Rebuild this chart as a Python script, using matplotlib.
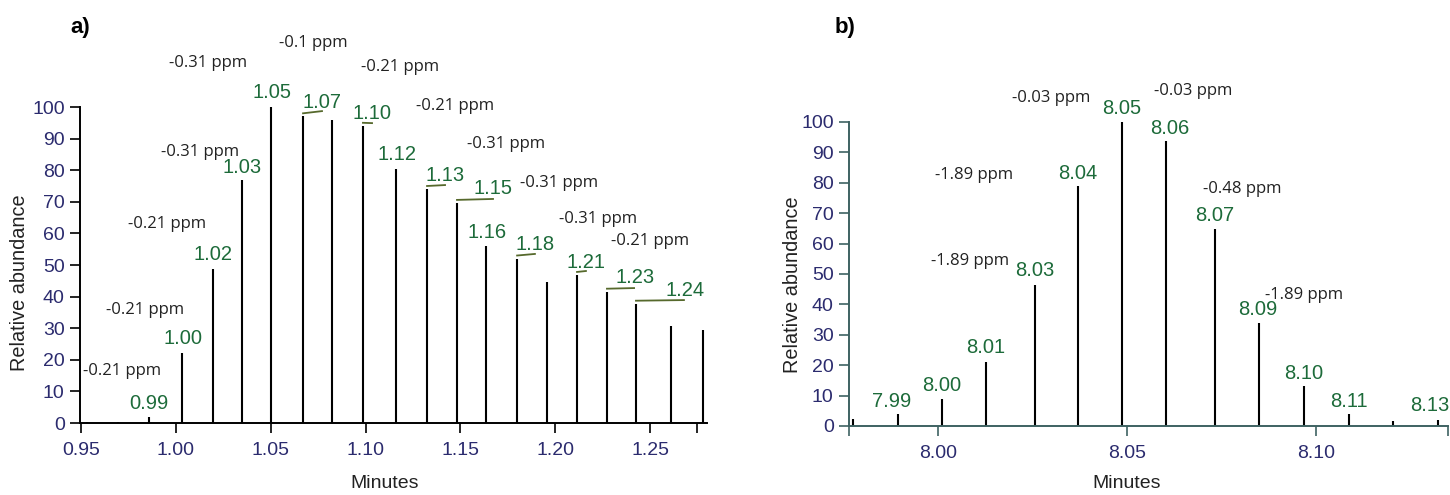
import matplotlib
matplotlib.use("Agg")
import matplotlib.pyplot as plt

# ---- data ----
# panel a) chromatogram peaks
times_a = [0.953, 0.9694, 0.9858, 1.0032, 1.0195, 1.0348, 1.0501, 1.0670, 1.0823, 1.0986, 1.1160,
           1.1324, 1.1482, 1.1635, 1.1799, 1.1957, 1.2115, 1.2273, 1.2426, 1.2611, 1.2780]
abund_a = [0.4, 0.4, 2, 22, 48.7, 77, 100, 97, 96, 94, 80.5,
           74, 69.6, 56, 52, 44.6, 46.8, 41.5, 37.7, 30.7, 29.4]
# labelled peaks: index into times_a, label text, label position
peak_labels_a = ["0.99", "1.00", "1.02", "1.03", "1.05", "1.07", "1.10", "1.12",
                 "1.13", "1.15", "1.16", "1.18", "1.21", "1.23", "1.24"]
peak_idx_a = [2, 3, 4, 5, 6, 7, 9, 10, 11, 12, 13, 14, 16, 17, 18]
peak_lab_x_a = [0.9858, 1.0037, 1.0195, 1.0348, 1.0506, 1.0770, 1.1034, 1.1166,
                1.1419, 1.1672, 1.1640, 1.1893, 1.2162, 1.2421, 1.2685]
peak_lab_y_a = [6.3, 26.6, 53.2, 81.0, 104.7, 101.3, 98.1, 85.1,
                78.2, 74.1, 60.4, 56.6, 50.9, 45.9, 41.8]
# leader lines (peak index -> end point)
lead_idx_a = [7, 9, 11, 12, 14, 16, 17, 18]
lead_end_x_a = [1.0770, 1.1034, 1.1419, 1.1672, 1.1893, 1.2162, 1.2416, 1.2679]
lead_end_y_a = [98.7, 94.9, 75.3, 70.9, 53.5, 48.1, 42.7, 38.9]
ppm_a = ["-0.21 ppm", "-0.21 ppm", "-0.21 ppm", "-0.31 ppm", "-0.31 ppm", "-0.1 ppm",
         "-0.21 ppm", "-0.21 ppm", "-0.31 ppm", "-0.31 ppm", "-0.31 ppm", "-0.21 ppm"]
ppm_x_a = [0.9715, 0.9836, 0.9953, 1.0127, 1.0169, 1.0723,
           1.1181, 1.1472, 1.1741, 1.2020, 1.2226, 1.2500]
ppm_y_a = [16.5, 35.8, 63.0, 85.8, 113.9, 120.3, 112.7, 100.3, 88.3, 75.9, 64.6, 57.6]
xticks_a = [0.95, 1.00, 1.05, 1.10, 1.15, 1.20, 1.25]

# panel b)
times_b = [7.9775, 7.9894, 8.0011, 8.0127, 8.0257, 8.0370, 8.0487,
           8.0603, 8.0733, 8.0849, 8.0968, 8.1087, 8.1204, 8.1323]
abund_b = [2.3, 4, 8.9, 21, 46.4, 79, 100, 93.8, 64.8, 33.9, 13.2, 4, 1.6, 2]
peak_labels_b = ["7.99", "8.00", "8.01", "8.03", "8.04", "8.05", "8.06", "8.07",
                 "8.09", "8.10", "8.11", "8.13"]
peak_idx_b = [1, 2, 3, 4, 5, 6, 7, 8, 9, 10, 11, 13]
peak_lab_x_b = [7.9878, 8.0011, 8.0127, 8.0257, 8.0370, 8.0487, 8.0614, 8.0733,
                8.0847, 8.0968, 8.1087, 8.1302]
peak_lab_y_b = [8.2, 13.2, 25.7, 51.0, 83.2, 104.6, 98.0, 69.4, 38.2, 17.4, 8.2, 6.6]
ppm_b = ["-0.03 ppm", "-0.03 ppm", "-1.89 ppm", "-1.89 ppm", "-0.48 ppm", "-1.89 ppm"]
ppm_x_b = [8.0299, 8.0675, 8.0095, 8.0085, 8.0804, 8.0968]
ppm_y_b = [107.9, 110.2, 82.6, 54.3, 78.0, 43.1]
xticks_b = [8.00, 8.05, 8.10]

yticks = list(range(0, 101, 10))

# ---- style ----
W, H = 1450, 495
navy = "#2b2b6e"
green = "#1d6b3a"
olive = "#56692c"
sans = ["Liberation Sans", "DejaVu Sans"]
ppm_font = ["Open Sans", "DejaVu Sans"]

fig = plt.figure(figsize=(W / 100, H / 100), dpi=100)


def px_axes(x0, x1, y_top, y_bot):
    return fig.add_axes([x0 / W, (H - y_bot) / H, (x1 - x0) / W, (y_bot - y_top) / H])


def style(ax, spine_col, xlim, xticks, minor):
    ax.set_xlim(*xlim)
    ax.set_ylim(0, 100)
    for s in ["top", "right"]:
        ax.spines[s].set_visible(False)
    for s in ["left", "bottom"]:
        ax.spines[s].set_color(spine_col)
        ax.spines[s].set_linewidth(1.4)
    ax.set_yticks(yticks)
    ax.set_xticks(xticks)
    ax.set_xticklabels(["%.2f" % t for t in xticks])
    ax.set_xticks(minor, minor=True)
    ax.tick_params(axis="both", colors=spine_col, labelcolor=navy, labelsize=14,
                   length=7, width=1.2, direction="out")
    ax.tick_params(axis="x", pad=7)
    ax.tick_params(axis="x", which="minor", colors=spine_col, length=7, width=1.2)
    ax.tick_params(axis="y", pad=4)
    for lab in ax.get_xticklabels() + ax.get_yticklabels():
        lab.set_family(sans)


def label_axes(ax, xl, yl):
    ax.set_xlabel("Minutes", fontsize=14, family=sans, color="#222222", va="center")
    ax.xaxis.set_label_coords(*xl)
    ax.set_ylabel("Relative abundance", fontsize=14.3, family=sans, color="#222222", va="center")
    ax.yaxis.set_label_coords(*yl)


# panel a
ax1 = px_axes(80, 707, 107, 423)
style(ax1, "black", (0.94937, 1.28006), xticks_a, [1.275])
ax1.vlines(times_a, 0, abund_a, color="black", lw=1.5)
for i, lab, lx, ly in zip(peak_idx_a, peak_labels_a, peak_lab_x_a, peak_lab_y_a):
    ax1.text(lx, ly, lab, color=green, fontsize=14.5, family=sans, ha="center", va="center",
             clip_on=False)
for i, ex, ey in zip(lead_idx_a, lead_end_x_a, lead_end_y_a):
    ax1.plot([times_a[i], ex], [abund_a[i] + 1, ey], color=olive, lw=1.3, clip_on=False)
for lab, lx, ly in zip(ppm_a, ppm_x_a, ppm_y_a):
    ax1.text(lx, ly, lab, color="#222222", fontsize=12, family=ppm_font, ha="center",
             va="center", clip_on=False)
label_axes(ax1, (0.486, -0.19), (-0.0957, 0.443))

# panel b
ax2 = px_axes(849, 1448, 122, 426)
style(ax2, "#3e6262", (7.97646, 8.13492), xticks_b, [7.9765, 8.1349])
ax2.vlines(times_b, 0, abund_b, color="black", lw=1.5)
for i, lab, lx, ly in zip(peak_idx_b, peak_labels_b, peak_lab_x_b, peak_lab_y_b):
    ax2.text(lx, ly, lab, color=green, fontsize=14.5, family=sans, ha="center", va="center",
             clip_on=False)
for lab, lx, ly in zip(ppm_b, ppm_x_b, ppm_y_b):
    ax2.text(lx, ly, lab, color="#222222", fontsize=12, family=ppm_font, ha="center",
             va="center", clip_on=False)
label_axes(ax2, (0.464, -0.188), (-0.0935, 0.464))

fig.text(80 / W, 1 - 28 / H, "a)", fontsize=16, fontweight="bold", family=sans,
         ha="center", va="center")
fig.text(845 / W, 1 - 28 / H, "b)", fontsize=16, fontweight="bold", family=sans,
         ha="center", va="center")

fig.savefig("out.png", dpi=100)
